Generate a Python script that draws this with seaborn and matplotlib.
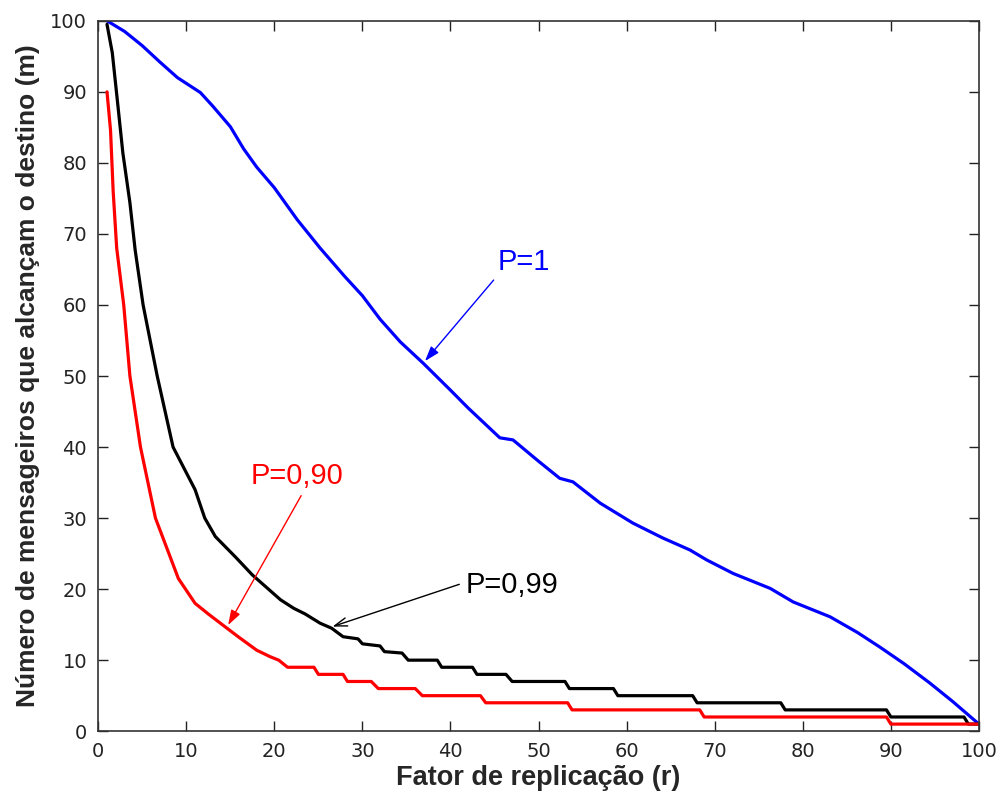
import matplotlib
matplotlib.use("Agg")
import matplotlib.pyplot as plt
import seaborn as sns
import pandas as pd

# P = 1
x_p1 = [1, 3, 5, 7, 9, 11.6, 13, 15, 16.5, 18, 20, 22.6, 25.2, 28, 30, 32, 34.3,
        36.9, 40, 42, 45.6, 47.1, 50, 52.4, 53.9, 57, 60.7, 64.1, 67.2, 69.1,
        72.1, 76.3, 78.9, 83.1, 86.2, 88.8, 91.5, 94.4, 97, 100]
y_p1 = [100, 98.5, 96.5, 94.2, 92, 89.9, 88, 85.1, 82, 79.4, 76.5, 72, 68, 64,
        61.3, 58, 54.8, 51.8, 48, 45.5, 41.3, 41, 38, 35.6, 35.1, 32.1, 29.3,
        27.2, 25.5, 24.1, 22.2, 20.1, 18.2, 16.1, 13.9, 11.8, 9.5, 6.8, 4.2, 1]

# P = 0,99
x_p99 = [1, 1.6, 2.2, 2.8, 3.6, 4.2, 5.1, 6.7, 8.5, 11, 12.1, 13.3, 15.6, 17.5,
         20.7, 22.2, 23.5, 25.2, 26.5, 27.8, 29.5, 30, 32, 32.5, 34.5, 35.2,
         38.5, 39, 42.5, 43, 46.3, 47, 53, 53.5, 58.5, 59, 67.5, 68, 77.5, 78,
         89.5, 90, 98.3, 98.8, 100]
y_p99 = [99.5, 95.5, 88.5, 81.4, 74.4, 67.7, 60, 50, 40, 34, 30, 27.4, 24.5,
         22, 18.5, 17.3, 16.5, 15.2, 14.5, 13.3, 13, 12.3, 12, 11.2, 11, 10,
         10, 9, 9, 8, 8, 7, 7, 6, 6, 5, 5, 4, 4, 3, 3, 2, 2, 1, 1]

# P = 0,90
x_p90 = [1, 1.4, 1.7, 2.1, 2.9, 3.6, 4.8, 6.5, 9.1, 11.0, 12.5, 14.3,
         16, 18, 19.5, 20.5, 21.5, 24.5, 25, 27.8, 28.3, 31, 31.8, 36, 36.8,
         43.4, 44, 53.3, 53.8, 68.3, 68.8, 89.5, 90, 100]
y_p90 = [90, 84.6, 76, 68, 60, 50, 40, 30, 21.5, 18, 16.5,
         14.8, 13.2, 11.4, 10.5, 10, 9, 9, 8, 8, 7, 7, 6, 6, 5, 5, 4, 4, 3, 3,
         2, 2, 1, 1]

series_names = ["P=1", "P=0,99", "P=0,90"]
series_colors = ["#0000ff", "#000000", "#ff0000"]

df = pd.concat([
    pd.DataFrame({"r": x_p1, "m": y_p1, "serie": series_names[0]}),
    pd.DataFrame({"r": x_p99, "m": y_p99, "serie": series_names[1]}),
    pd.DataFrame({"r": x_p90, "m": y_p90, "serie": series_names[2]}),
])

sns.set_style("ticks")
plt.rcParams["font.family"] = ["Liberation Sans", "DejaVu Sans"]

fig, ax = plt.subplots(figsize=(10.02, 8), dpi=100)
fig.subplots_adjust(left=0.098, right=0.977, top=0.974, bottom=0.086)

sns.lineplot(data=df, x="r", y="m", hue="serie", palette=series_colors,
             hue_order=series_names, estimator=None, sort=False,
             linewidth=2.3, legend=False, ax=ax)

ax.set_xlim(0, 100)
ax.set_ylim(0, 100)
ax.set_xticks(range(0, 101, 10))
ax.set_yticks(range(0, 101, 10))
ax.tick_params(direction="in", length=7, width=1, top=True, right=True,
               labelsize=14, pad=8, colors="#222222")
for lab in ax.get_xticklabels() + ax.get_yticklabels():
    lab.set_fontfamily("DejaVu Sans")
for s in ax.spines.values():
    s.set_visible(True)
    s.set_color("#333333")
    s.set_linewidth(1.2)

ax.set_xlabel("Fator de replicação (r)", fontsize=19.5, fontweight="bold", labelpad=3)
ax.set_ylabel("Número de mensageiros que alcançam o destino (m)", fontsize=19,
              fontweight="bold", labelpad=7)

# anotações
ax.text(45.4, 64.9, "P=1", color="#0000ff", fontsize=21, va="baseline")
ax.annotate("", xy=(36.9, 51.8), xytext=(45.1, 63.8),
            arrowprops=dict(arrowstyle="-|>,head_length=0.9,head_width=0.3",
                            color="#0000ff", lw=1))
ax.text(41.7, 19.4, "P=0,99", color="#000000", fontsize=21, va="baseline")
ax.annotate("", xy=(26.3, 14.6), xytext=(41.3, 20.8),
            arrowprops=dict(arrowstyle="->,head_length=0.9,head_width=0.3",
                            color="#000000", lw=1))
ax.text(17.3, 34.8, "P=0,90", color="#ff0000", fontsize=21, va="baseline")
ax.annotate("", xy=(14.6, 14.6), xytext=(23.2, 33.5),
            arrowprops=dict(arrowstyle="-|>,head_length=0.9,head_width=0.3",
                            color="#ff0000", lw=1))

fig.savefig("out.png", dpi=100, facecolor="white")
